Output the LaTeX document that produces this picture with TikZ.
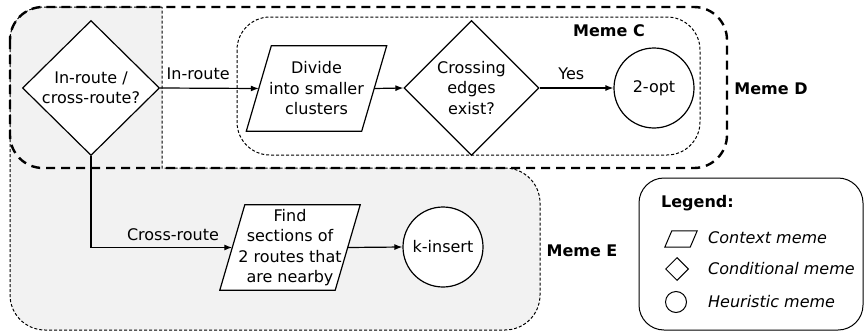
\documentclass[tikz,border=0pt]{standalone}
\usepackage{fontspec}
\setmainfont{DejaVu Sans}
\usetikzlibrary{shapes.geometric,arrows.meta,calc}
\definecolor{memegray}{RGB}{242,242,242}
\begin{document}
\begin{tikzpicture}[x=1pt,y=-1pt,
  every node/.style={font=\fontsize{16}{20.5}\selectfont, inner sep=0pt},
  shapeline/.style={draw, line width=1.2pt, fill=white},
  decision/.style={diamond, shapeline, minimum width=137pt, minimum height=135pt},
  context/.style={rectangle, minimum width=115pt, minimum height=85pt},
  heuristic/.style={circle, shapeline, minimum size=80pt},
  intext/.style={align=center},
  flow/.style={line width=1.2pt, -{Latex[length=8pt,width=6pt]}},
  memelabel/.style={font=\fontsize{16}{20}\selectfont\bfseries},
  legtext/.style={font=\fontsize{16}{20}\selectfont\itshape, anchor=west},
  memeDline/.style={line width=2.4pt, dash pattern=on 9pt off 6pt, rounded corners=33pt},
  memeCline/.style={line width=1pt, dash pattern=on 3pt off 2pt, rounded corners=33pt},
  memeEline/.style={line width=1pt, dash pattern=on 3pt off 2pt},
]
\useasboundingbox (0,0) rectangle (867,332);

% Meme E region
\fill[memegray] (162,7) -- (43,7) .. controls (24.8,7) and (10,21.8) .. (10,40)
  -- (10,295) .. controls (10,314.3) and (25.7,330) .. (45,330)
  -- (505,330) .. controls (524.3,330) and (540,314.3) .. (540,295)
  -- (540,203) .. controls (540,183.7) and (524.3,168) .. (505,168)
  -- (162,168) -- cycle;
\draw[memeEline] (162,7) -- (43,7) .. controls (24.8,7) and (10,21.8) .. (10,40)
  -- (10,295) .. controls (10,314.3) and (25.7,330) .. (45,330)
  -- (505,330) .. controls (524.3,330) and (540,314.3) .. (540,295)
  -- (540,203) .. controls (540,183.7) and (524.3,168) .. (505,168)
  -- (162,168) -- cycle;

% Meme C and Meme D
\draw[memeCline] (237,17) rectangle (700,155);
\draw[memeDline] (10,7) rectangle (727,168);

% decision and heuristic nodes
\node[decision, label={[intext]center:In-route /\\cross-route?}] (d1) at (91,88) {};
\node[decision, minimum width=135pt, label={[intext]center:Crossing\\edges\\exist?}] (d2) at (471.5,88) {};
\node[heuristic] (c1) at (654,88) {2-opt};
\node[heuristic] (c2) at (443,247) {k-insert};

% context nodes (parallelograms)
\node[context] (p1) at (316.5,88.5) {};
\filldraw[shapeline] ($(p1.south west)+(-12.5,0)$) -- ($(p1.south east)+(-12.5,0)$)
  -- ($(p1.north east)+(12.5,0)$) -- ($(p1.north west)+(12.5,0)$) -- cycle;
\node[intext] (p1t) at (p1) {Divide\\into smaller\\clusters};
\node[context] (p2) at (290,247.5) {};
\filldraw[shapeline] ($(p2.south west)+(-12.5,0)$) -- ($(p2.south east)+(-12.5,0)$)
  -- ($(p2.north east)+(12.5,0)$) -- ($(p2.north west)+(12.5,0)$) -- cycle;
\node[intext] (p2t) at (p2) {Find\\sections of\\2 routes that\\are nearby};

% connectors
\draw[flow] (d1.east) -- node[pos=0.386, yshift=14pt] {In-route} (p1.west);
\draw[flow] (p1.east) -- (d2.west);
\draw[flow] (d2.east) -- node[pos=0.43, yshift=14pt] {Yes} (c1.west);
\draw[flow] (d1.south) |- node[pos=0.79, yshift=13pt] {Cross-route} (p2.west);
\draw[flow] (p2.east) -- (c2.west);

% meme labels
\node[memelabel] (lc) at (609,31) {Meme C};
\node[memelabel] (ld) at (771,89) {Meme D};
\node[memelabel] (le) at (582,251) {Meme E};

% legend
\draw[line width=1pt, rounded corners=25pt] (639,178) rectangle (863,330);
\node[memelabel, anchor=west] (lg) at (661,203) {Legend:};
\node[rectangle, minimum width=25pt, minimum height=16pt] (i1) at (681,239) {};
\draw[line width=1pt] ($(i1.south west)+(-3.5,0)$) -- ($(i1.south east)+(-3.5,0)$)
  -- ($(i1.north east)+(3.5,0)$) -- ($(i1.north west)+(3.5,0)$) -- cycle;
\node[diamond, draw, line width=1pt, minimum width=23pt, minimum height=23pt] (i2) at (677,269) {};
\node[circle, draw, line width=1pt, minimum size=21pt] (i3) at (676,302) {};
\node[legtext] (t1) at (708,238) {Context meme};
\node[legtext] (t2) at (708,269) {Conditional meme};
\node[legtext] (t3) at (708,302) {Heuristic meme};
\end{tikzpicture}
\end{document}
